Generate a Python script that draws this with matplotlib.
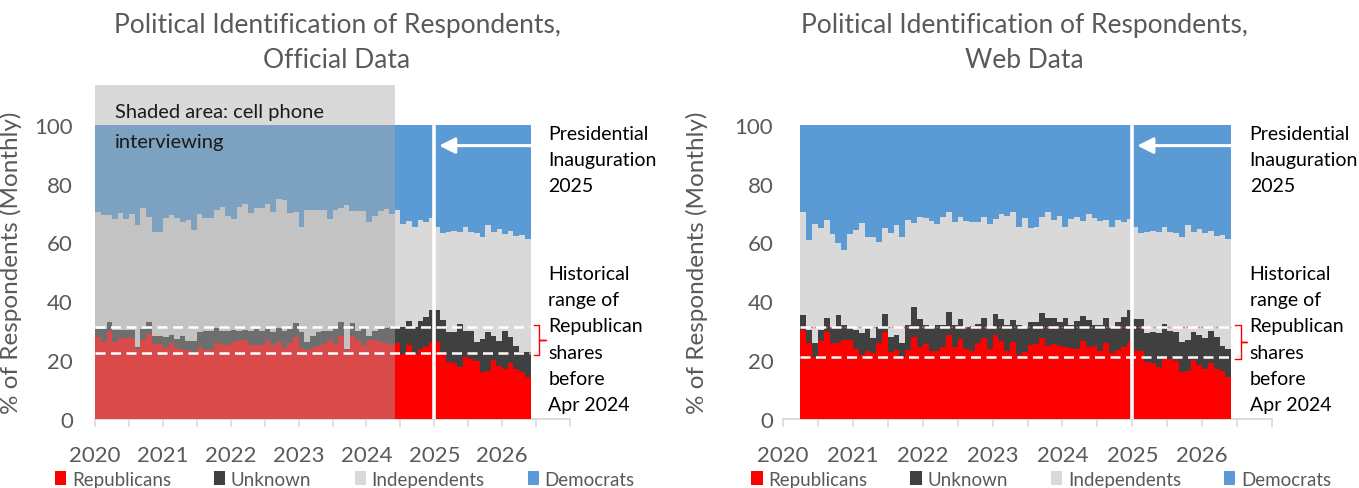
import matplotlib.pyplot as plt
from matplotlib.patches import Patch
import numpy as np
import pandas as pd

#--- Months (bar categories) ---
months_official = pd.date_range('2020-01-01', '2026-05-01', freq='MS')   # 77 months
months_web = pd.date_range('2020-04-01', '2026-05-01', freq='MS')        # 74 months

#--- Official data, % of respondents per month ---
rep_official = [28.0, 26.3, 29.8, 26.1, 27.4, 27.4, 27.4, 23.8, 27.0, 29.0,
                25.5, 25.5, 24.0, 25.9, 24.0, 23.6, 23.3, 21.8, 24.4, 23.3,
                23.3, 25.9, 25.5, 25.0, 26.3, 26.9, 26.9, 25.0, 25.0, 25.0,
                26.9, 25.0, 26.1, 24.0, 25.9, 27.7, 24.0, 23.3, 24.0, 24.7,
                25.5, 27.0, 25.5, 28.1, 23.6, 28.3, 27.0, 25.0, 26.9, 26.9,
                26.3, 25.9, 25.3, 25.7, 22.1, 25.1, 22.1, 23.8, 24.4, 26.3,
                26.1, 22.6, 19.3, 19.0, 17.8, 20.9, 20.4, 19.8, 16.1, 16.4,
                20.1, 18.1, 17.0, 19.0, 17.0, 15.9, 14.2]
unk_official = [2.6, 4.3, 3.1, 4.3, 3.0, 3.0, 3.0, 0.5, 3.6, 3.9,
                2.8, 2.8, 3.8, 2.7, 3.2, 4.5, 3.3, 4.8, 5.1, 6.7,
                6.7, 4.9, 4.5, 5.0, 4.1, 2.9, 3.5, 4.8, 5.6, 5.0,
                3.7, 4.5, 4.7, 6.0, 4.7, 5.0, 5.5, 2.8, 4.3, 4.8,
                4.5, 3.0, 5.7, 4.8, 0.2, 4.4, 3.0, 6.2, 1.4, 3.1,
                4.3, 4.9, 5.9, 5.5, 9.1, 8.3, 9.1, 9.6, 10.2, 10.8,
                11.0, 11.2, 10.4, 10.5, 14.5, 9.1, 9.6, 6.5, 11.1, 13.1,
                8.2, 8.5, 13.0, 8.8, 7.9, 6.8, 8.5]
ind_official = [39.7, 38.7, 36.4, 37.5, 39.6, 37.5, 39.3, 41.7, 41.1, 35.9,
                35.3, 35.3, 40.6, 40.6, 41.0, 38.7, 41.1, 37.5, 40.3, 38.3,
                38.3, 40.1, 42.0, 39.0, 37.4, 42.2, 42.5, 40.2, 41.1, 41.7,
                42.5, 41.0, 44.0, 44.3, 39.4, 37.8, 35.6, 44.8, 42.6, 41.4,
                40.9, 38.0, 39.7, 38.8, 48.9, 37.9, 40.6, 39.4, 38.6, 39.0,
                40.0, 40.5, 38.5, 39.9, 35.2, 34.0, 34.0, 34.3, 32.4, 31.1,
                28.3, 29.5, 33.8, 34.3, 31.2, 35.3, 33.5, 36.8, 34.6, 36.4,
                35.1, 37.9, 32.9, 36.0, 37.2, 39.7, 38.4]
dem_official = [29.7, 30.7, 30.7, 32.1, 30.0, 32.1, 30.3, 34.0, 28.3, 31.2,
                36.4, 36.4, 31.6, 30.8, 31.8, 33.2, 32.3, 35.9, 30.2, 31.7,
                31.7, 29.1, 28.0, 31.0, 32.2, 28.0, 27.1, 30.0, 28.3, 28.3,
                26.9, 29.5, 25.2, 25.7, 30.0, 29.5, 34.9, 29.1, 29.1, 29.1,
                29.1, 32.0, 29.1, 28.3, 27.3, 29.4, 29.4, 29.4, 33.1, 31.0,
                29.4, 28.7, 30.3, 28.9, 33.6, 32.6, 34.8, 32.3, 33.0, 31.8,
                34.6, 36.7, 36.5, 36.2, 36.5, 34.7, 36.5, 36.9, 38.2, 34.1,
                36.6, 35.5, 37.1, 36.2, 37.9, 37.6, 38.9]

#--- Web data, % of respondents per month ---
rep_web = [30.4, 25.7, 20.9, 26.6, 29.5, 25.7, 25.7, 26.9, 26.9, 23.8,
           21.8, 23.2, 22.4, 25.9, 29.7, 22.7, 23.5, 21.2, 23.6, 28.0,
           24.6, 25.5, 23.2, 23.0, 24.4, 28.6, 24.6, 27.1, 23.8, 23.0,
           25.7, 27.4, 23.8, 28.7, 26.6, 23.2, 26.3, 21.8, 22.6, 25.2,
           25.5, 27.4, 24.9, 25.5, 24.7, 24.6, 24.2, 23.7, 26.4, 24.4,
           24.9, 23.0, 25.9, 22.3, 23.5, 24.4, 26.3, 23.0, 23.0, 19.3,
           19.1, 17.8, 20.9, 20.3, 19.8, 15.9, 16.2, 20.2, 18.5, 17.0,
           19.1, 17.0, 16.2, 14.2]
unk_web = [5.0, 4.7, 4.8, 3.7, 4.7, 5.5, 9.7, 5.0, 4.3, 6.5,
           7.3, 8.0, 5.0, 5.3, 6.0, 5.3, 5.2, 4.5, 8.3, 10.2,
           9.4, 6.4, 7.6, 8.9, 7.7, 7.7, 7.3, 6.9, 7.6, 8.5,
           6.6, 6.8, 7.0, 7.0, 7.4, 8.7, 7.4, 10.1, 8.6, 7.7,
           7.4, 8.7, 9.3, 8.7, 8.4, 9.8, 7.9, 9.7, 8.5, 9.3,
           7.2, 8.9, 8.5, 8.5, 9.6, 10.4, 10.8, 11.0, 11.0, 10.0,
           10.6, 11.3, 11.4, 9.7, 9.9, 10.4, 10.7, 9.3, 10.1, 10.4,
           10.9, 10.8, 8.7, 9.6]
ind_web = [34.9, 30.5, 40.5, 34.7, 33.4, 31.7, 24.5, 25.6, 31.7, 34.0,
           37.4, 30.5, 34.4, 29.1, 29.1, 35.3, 37.3, 36.1, 35.7, 28.3,
           34.8, 36.4, 36.4, 34.4, 36.4, 34.0, 35.2, 34.5, 36.0, 35.4,
           34.6, 34.3, 35.6, 32.3, 35.6, 37.2, 36.6, 33.4, 37.1, 31.9,
           32.4, 32.7, 36.1, 33.3, 36.0, 31.0, 35.9, 35.2, 32.3, 35.9,
           36.2, 35.5, 33.1, 34.4, 34.5, 32.2, 31.0, 31.4, 29.3, 34.4,
           34.1, 34.4, 32.9, 33.7, 33.6, 35.5, 39.1, 34.0, 35.9, 35.9,
           34.0, 34.3, 37.5, 37.4]
dem_web = [29.7, 39.1, 33.8, 35.0, 32.4, 37.1, 40.1, 42.5, 37.1, 35.7,
           33.5, 38.3, 38.2, 39.7, 35.2, 36.7, 34.0, 38.2, 32.4, 33.5,
           31.2, 31.7, 32.8, 33.7, 31.5, 29.7, 32.9, 31.5, 32.6, 33.1,
           33.1, 31.5, 33.6, 32.0, 30.4, 30.9, 29.7, 34.7, 31.7, 35.2,
           34.7, 31.2, 29.7, 32.5, 30.9, 34.6, 32.0, 31.4, 32.8, 30.4,
           31.7, 32.6, 32.5, 34.8, 32.4, 33.0, 31.9, 34.6, 36.7, 36.3,
           36.2, 36.5, 34.8, 36.3, 36.7, 38.2, 34.0, 36.5, 35.5, 36.7,
           36.0, 37.9, 37.6, 38.8]

#--- Historical range of Republican shares before Apr 2024 (low, high) ---
hist_official = (22.4, 31.3)
hist_web = (21.0, 31.1)

series_names = ['Republicans', 'Unknown', 'Independents', 'Democrats']
series_colors = ['#FF0000', '#404040', '#D9D9D9', '#5B9BD5']

#############################################################

TextGray = '#595959'
plt.rcParams['font.family'] = ['Lato', 'DejaVu Sans']

YTOP = 113.5
INAUG = 2025.0
SHADE_END = 2024.42


def decimal_year(months):
    return np.asarray(months.year + (months.month - 1) / 12.0, dtype=float)


def plot_panel(ax, months, rep, unk, ind, dem, hist, title, title_x,
               ylab_pad, leg_x, shaded=False, red_dots=False):

    xx = decimal_year(months)
    x_end = xx[-1] + 1 / 12.0
    bottom = np.zeros(len(xx))
    for vals, col in zip([rep, unk, ind, dem], series_colors):
        vals = np.asarray(vals)
        ax.bar(xx, vals, width=1.04 / 12.0, bottom=bottom, align='edge',
               color=col, linewidth=0, zorder=1)
        bottom = bottom + vals

    # Inauguration line
    ax.plot([INAUG, INAUG], [0, 100], color='white', lw=2.6, zorder=5,
            solid_capstyle='butt')

    # Historical range lines
    if red_dots:
        ax.hlines(hist[1], xx[0], x_end, colors='#FF6060', linestyles=':',
                  lw=1.0, zorder=5)
    for yy in hist:
        ax.hlines(yy, xx[0], x_end, colors='white', linestyles=(0, (4, 2.2)),
                  lw=1.8, zorder=6)

    # Arrow to the inauguration line
    ax.annotate('', xy=(INAUG + 0.07, 92.9), xytext=(x_end, 92.9),
                arrowprops=dict(arrowstyle='-|>', color='white', lw=2.2,
                                mutation_scale=24, shrinkA=0, shrinkB=0),
                zorder=7)

    # Red bracket for the historical range
    xb = 2026.55
    ym = (hist[0] + hist[1]) / 2
    ax.plot([xb - 0.08, xb, xb, xb + 0.09, xb, xb, xb - 0.08],
            [hist[1] + 0.7, hist[1] + 0.7, ym, ym, ym,
             hist[0] - 0.6, hist[0] - 0.6],
            color='#FF0000', lw=1.0, clip_on=False, zorder=7)

    ax.text(2026.68, 88.2, 'Presidential\nInauguration\n2025', fontsize=14,
            color='black', ha='left', va='center', linespacing=1.66,
            clip_on=False)
    ax.text(2026.68, 27.2, 'Historical\nrange of\nRepublican\nshares\nbefore\nApr 2024',
            fontsize=14, color='black', ha='left', va='center',
            linespacing=1.66, clip_on=False)

    if shaded:
        ax.axvspan(2020.0, SHADE_END, ymin=0, ymax=1, color='#A9A9A9',
                   alpha=0.44, lw=0, zorder=4)
        ax.text(2020.29, 99.4, 'Shaded area: cell phone\ninterviewing',
                fontsize=14.5, color='#1A1A1A', ha='left', va='center',
                linespacing=1.9, zorder=8)

    #--- axes ---
    ax.set_xlim(2020, 2027)
    ax.set_ylim(0, YTOP)
    for sp in ['left', 'right', 'top']:
        ax.spines[sp].set_visible(False)
    ax.spines['bottom'].set_color('#D9D9D9')
    ax.spines['bottom'].set_linewidth(1.3)
    ax.spines['bottom'].set_zorder(0)

    xt = np.arange(2020, 2027.01, 0.5)
    xl = [str(int(v)) if (v == int(v) and v < 2027) else '' for v in xt]
    ax.set_xticks(xt)
    ax.set_xticklabels(xl)
    ax.tick_params(axis='x', length=6, width=1.2, color='#D9D9D9',
                   labelcolor=TextGray, labelsize=16, pad=13)
    ax.set_yticks(range(0, 101, 20))
    ax.tick_params(axis='y', length=0, labelcolor=TextGray, labelsize=16,
                   pad=ylab_pad)

    ax.set_ylabel('% of Respondents (Monthly)', fontsize=17.5,
                  color=TextGray)
    ax.yaxis.set_label_coords(-0.154, 0.47)

    handles = [Patch(facecolor=c, edgecolor='none') for c in series_colors]
    leg = ax.legend(handles, series_names, loc='center',
                    bbox_to_anchor=(leg_x, -0.18), ncol=4, frameon=False,
                    handlelength=0.6, handleheight=0.75, handletextpad=0.3,
                    columnspacing=2.3, fontsize=13.5)
    for t in leg.get_texts():
        t.set_color(TextGray)

    fig.text(title_x, 0.912, title, ha='center', va='center', fontsize=19,
             color=TextGray, linespacing=1.5)


fig = plt.figure(figsize=(13.59, 4.89), dpi=100)

ax1 = fig.add_axes([95 / 1359, 69 / 489, 475 / 1359, 334 / 489])
ax2 = fig.add_axes([783 / 1359, 69 / 489, 489 / 1359, 334 / 489])

plot_panel(ax1, months_official, rep_official, unk_official, ind_official,
           dem_official, hist_official,
           'Political Identification of Respondents,\nOfficial Data',
           337 / 1359, ylab_pad=16, leg_x=0.526, shaded=True)
plot_panel(ax2, months_web, rep_web, unk_web, ind_web, dem_web, hist_web,
           'Political Identification of Respondents,\nWeb Data',
           1024 / 1359, ylab_pad=7, leg_x=0.528, red_dots=True)

plt.savefig('out.png', dpi=100)
plt.close()
